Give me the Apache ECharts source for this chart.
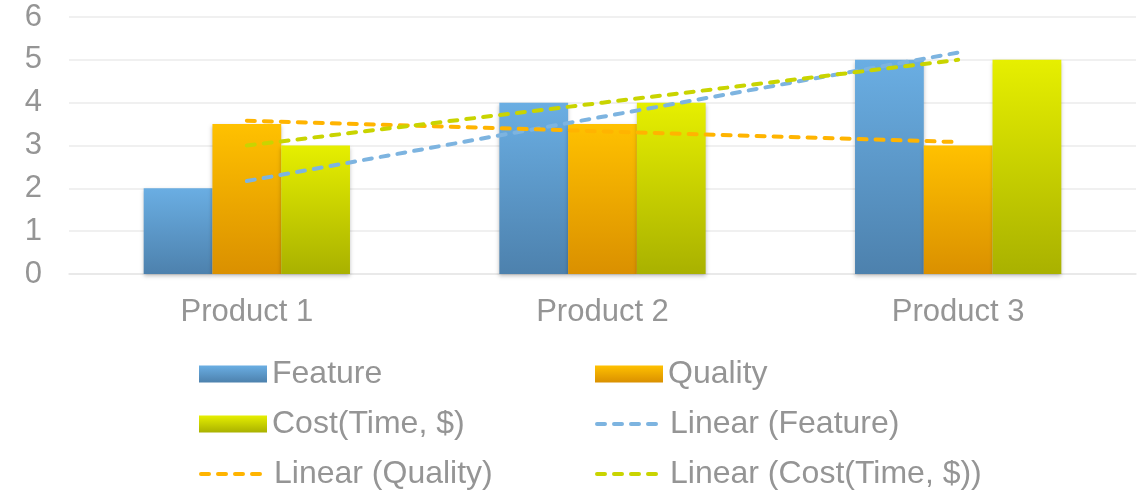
<!DOCTYPE html>
<html>
<head>
<meta charset="utf-8">
<script src="https://cdn.jsdelivr.net/npm/echarts@6/dist/echarts.min.js"></script>
<style>
html,body{margin:0;padding:0;background:#fff;}
#c{width:1145px;height:497px;}
</style>
</head>
<body>
<div id="c"></div>
<script>
var categories = ['Product 1', 'Product 2', 'Product 3'];
var featureValues = [2, 4, 5];
var qualityValues = [3.5, 3.5, 3];
var costValues = [3, 4, 5];
var featureTrend = [2.17, 3.67, 5.17];
var qualityTrend = [3.58, 3.33, 3.08];
var costTrend = [3, 4, 5];
var yTicks = [0, 1, 2, 3, 4, 5, 6];

var FONT = '"Liberation Sans", Arial, sans-serif';
var GRAY = '#959595';

function grad(top, bottom) {
  return new echarts.graphic.LinearGradient(0, 0, 0, 1, [
    {offset: 0, color: top}, {offset: 1, color: bottom}
  ]);
}
var featureColor = grad('#6aaee3', '#4d81ad');
var qualityColor = grad('#ffc100', '#da9000');
var costColor = grad('#e6ef00', '#a9b100');

var trendColors = {'Linear (Feature)': '#7db4e0', 'Linear (Quality)': '#ffb400', 'Linear (Cost(Time, $))': '#c9d400'};
var dashStyle = {width: 4, type: [8, 9], cap: 'round'};

function barSeries(name, data, color) {
  return {
    name: name, type: 'bar', data: data,
    barGap: '0%', barCategoryGap: '42%',
    itemStyle: {color: color, shadowBlur: 4, shadowColor: 'rgba(0,0,0,0.25)', shadowOffsetY: 2}
  };
}
function trendSeries(name, data) {
  var color = trendColors[name];
  return {
    name: name, type: 'line', data: data, symbol: 'none', z: 5,
    lineStyle: Object.assign({color: color}, dashStyle),
    itemStyle: {color: color}
  };
}

function legendItem(name, left, top, isLine) {
  var item = {name: name};
  if (isLine) {
    item.itemStyle = {opacity: 0};
    item.lineStyle = Object.assign({color: trendColors[name], opacity: 1}, dashStyle);
  } else {
    item.icon = 'rect';
  }
  return {
    left: left, top: top, padding: 0, itemWidth: 68, itemHeight: 17, itemGap: 0,
    textStyle: {color: GRAY, fontSize: 32, fontFamily: FONT, lineHeight: 36},
    selectedMode: false,
    data: [item]
  };
}

var chart = echarts.init(document.getElementById('c'));
chart.setOption({
  animation: false,
  grid: {left: 69, right: 9, top: 17, bottom: 223, containLabel: false},
  legend: [
    legendItem('Feature', 199, 356, false),
    legendItem('Quality', 595, 356, false),
    legendItem('Cost(Time, $)', 199, 406, false),
    legendItem('Linear (Feature)', 595, 406, true),
    legendItem('Linear (Quality)', 199, 456, true),
    legendItem('Linear (Cost(Time, $))', 595, 456, true)
  ],
  xAxis: {
    type: 'category', data: categories,
    axisTick: {show: false},
    axisLine: {lineStyle: {color: '#e6e6e6', width: 1.5}},
    axisLabel: {color: GRAY, fontSize: 31, fontFamily: FONT, margin: 23}
  },
  yAxis: {
    type: 'value', min: yTicks[0], max: yTicks[yTicks.length - 1], interval: 1,
    axisLine: {show: false}, axisTick: {show: false},
    splitLine: {lineStyle: {color: '#ebebeb', width: 1.5}},
    axisLabel: {color: GRAY, fontSize: 31, fontFamily: FONT, margin: 27}
  },
  series: [
    barSeries('Feature', featureValues, featureColor),
    barSeries('Quality', qualityValues, qualityColor),
    barSeries('Cost(Time, $)', costValues, costColor),
    trendSeries('Linear (Feature)', featureTrend),
    trendSeries('Linear (Quality)', qualityTrend),
    trendSeries('Linear (Cost(Time, $))', costTrend)
  ]
});
</script>
</body>
</html>
